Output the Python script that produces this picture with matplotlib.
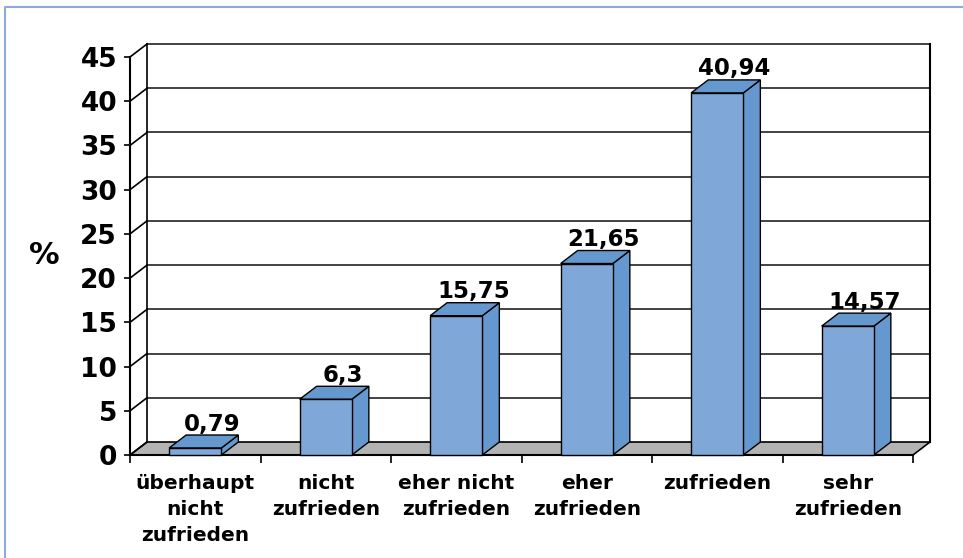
"""Zufriedenheit - 3D-artiges Balkendiagramm im Excel-Stil."""
import matplotlib
matplotlib.use('Agg')
import matplotlib.pyplot as plt
from matplotlib.patches import Polygon
from matplotlib.lines import Line2D

categories = ['überhaupt\nnicht\nzufrieden', 'nicht\nzufrieden', 'eher nicht\nzufrieden',
              'eher\nzufrieden', 'zufrieden', 'sehr\nzufrieden']
values = [0.79, 6.3, 15.75, 21.65, 40.94, 14.57]
value_labels = ['0,79', '6,3', '15,75', '21,65', '40,94', '14,57']
y_ticks = [0, 5, 10, 15, 20, 25, 30, 35, 40, 45]

front_color = '#7fa8d8'
side_color = '#6498ce'
floor_color = '#b3b3b3'

plt.rcParams['font.family'] = ['DejaVu Sans']
plt.rcParams['font.weight'] = 'bold'

fig = plt.figure(figsize=(9.63, 5.58), dpi=100)
ax = fig.add_axes([130 / 963, 1 - 455 / 558, 783 / 963, 398 / 558])
ax.set_xlim(0, len(categories))
ax.set_ylim(0, 45)

# depth offset of the 3D look (in data units)
dx = 17 / 130.5
dy = 13 / 8.844
n = len(categories)

# floor
ax.add_patch(Polygon([(0, 0), (n, 0), (n + dx, dy), (dx, dy)], closed=True,
                     facecolor=floor_color, edgecolor='black', lw=1.2, clip_on=False, zorder=1))

# back wall gridlines and left wall diagonals
for t in y_ticks[1:]:
    ax.add_line(Line2D([dx, n + dx], [t + dy, t + dy], color='#222222', lw=1.2, clip_on=False, zorder=1))
for t in y_ticks:
    ax.add_line(Line2D([0, dx], [t, t + dy], color='black', lw=1.2, clip_on=False, zorder=1))
ax.add_line(Line2D([dx, dx], [dy, 45 + dy], color='black', lw=1.2, clip_on=False, zorder=1))
ax.add_line(Line2D([n + dx, n + dx], [dy, 45 + dy], color='black', lw=1.5, clip_on=False, zorder=1))

# bars
bw = 0.4
for i, v in enumerate(values):
    x0 = i + 0.5 - bw / 2
    x1 = x0 + bw
    ax.add_patch(Polygon([(x1, 0), (x1 + dx, dy), (x1 + dx, v + dy), (x1, v)], closed=True,
                         facecolor=side_color, edgecolor='black', lw=1.0, clip_on=False, zorder=3))
    ax.add_patch(Polygon([(x0, v), (x1, v), (x1 + dx, v + dy), (x0 + dx, v + dy)], closed=True,
                         facecolor=side_color, edgecolor='black', lw=1.0, clip_on=False, zorder=3))
    ax.add_patch(Polygon([(x0, 0), (x1, 0), (x1, v), (x0, v)], closed=True,
                         facecolor=front_color, edgecolor='black', lw=1.0, clip_on=False, zorder=4))
    ax.text(i + 0.5 + dx, v + dy + 0.5, value_labels[i], ha='center', va='baseline',
            fontsize=16.5, fontweight='bold', zorder=5)

# axes
for s in ['top', 'right']:
    ax.spines[s].set_visible(False)
ax.spines['left'].set_linewidth(1.5)
ax.spines['bottom'].set_linewidth(1.5)
ax.set_facecolor('none')
ax.set_yticks(y_ticks)
ax.set_yticklabels([str(t) for t in y_ticks], fontsize=19, fontweight='bold')
ax.tick_params(axis='y', direction='out', length=4.3, width=1.2, pad=5)
ax.set_xticks(range(n + 1))
ax.set_xticklabels([])
ax.set_xticks([i + 0.5 for i in range(n)], minor=True)
ax.set_xticklabels(categories, minor=True, fontsize=14.5, fontweight='bold', linespacing=1.45)
ax.tick_params(axis='x', which='major', direction='out', length=5.8, width=1.2)
ax.tick_params(axis='x', which='minor', length=0, pad=14)
ax.set_ylabel('%', rotation=0, fontsize=22, fontweight='bold', labelpad=26, va='center')

# outer frame (only top and left edges visible)
fig.add_artist(Line2D([5 / 963, 5 / 963, 1], [0, 1 - 7 / 558, 1 - 7 / 558],
                      color='#8eaadb', lw=1.5, transform=fig.transFigure))

fig.savefig('out.png', dpi=100)
